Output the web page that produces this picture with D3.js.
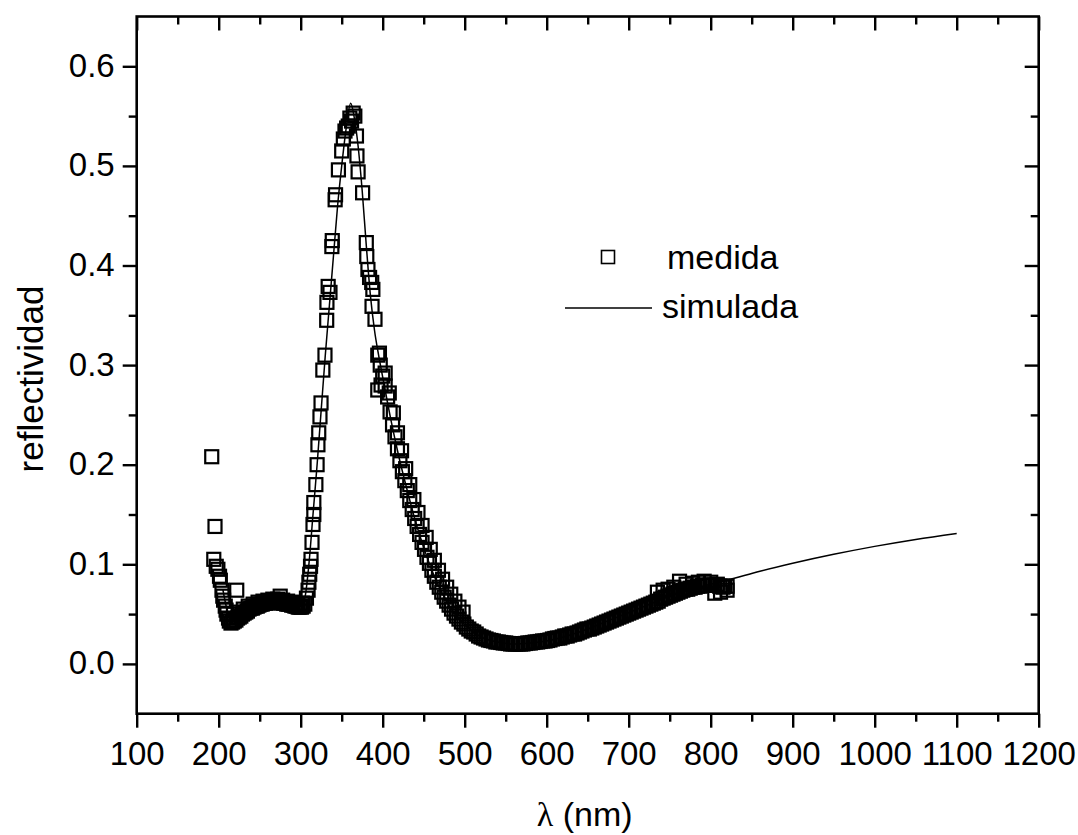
<!DOCTYPE html>
<html>
<head>
<meta charset="utf-8">
<script src="https://cdn.jsdelivr.net/npm/d3@7"></script>
<style>
  html, body { margin: 0; padding: 0; background: #fff; }
  svg { display: block; }
  text { font-family: "Liberation Sans", Arial, Helvetica, sans-serif; fill: #000; }
</style>
</head>
<body>
<svg id="chart" width="1078" height="835"></svg>
<script>
// ---------------- data ----------------
const xMajorTicks = [100, 200, 300, 400, 500, 600, 700, 800, 900, 1000, 1100, 1200];
const xMinorTicks = [150, 250, 350, 450, 550, 650, 750, 850, 950, 1050, 1150];
const yMajorTicks = [0.0, 0.1, 0.2, 0.3, 0.4, 0.5, 0.6];
const yMinorTicks = [0.05, 0.15, 0.25, 0.35, 0.45, 0.55];
const xLabel = "λ (nm)";
const yLabel = "reflectividad";
const legendLabels = ["medida", "simulada"];

// measured points, UV part (wavelength nm, reflectivity)
const medidaUV = [
  [191.5,.208],[195.5,.138],[194,.105],[197,.098],[199,.095],[201,.088],[202,.084],[204,.074],
  [205,.068],[206,.064],[208,.058],[209,.054],[210,.050],[212,.046],[213,.043],[215,.041],[222,.074],
  [217,.042],[219,.043],[221,.044],[223,.046],[225,.047],[227,.048],[229,.050],[231,.051],[233,.052],
  [235,.053],[237,.055],[239,.056],[241,.056],[243,.057],[245,.058],[247,.058],[249,.059],[251,.060],
  [253,.060],[255,.061],[257,.061],[259,.061],[261,.062],[263,.062],[265,.062],[267,.062],[269,.062],
  [271,.062],[273,.062],[275,.068],[275,.062],[277,.061],[279,.061],[281,.061],[283,.060],[285,.060],
  [287,.060],[289,.059],[291,.059],[293,.058],[295,.058],[297,.057],[299,.057],[301,.057],[303,.058],
  [218,.050],[224,.052],[230,.055],[236,.058],[242,.060],[248,.062],[254,.063],[260,.064],[266,.065],
  [272,.065],[278,.064],[284,.063],[290,.062],[296,.060],[302,.061],[305,.060],
  [307,.066],[309,.074],[310,.082],[311,.090],[312,.098],[312.6,.105],[313.8,.122],[315,.140],
  [316,.150],[316,.162],[318.5,.180],[320,.200],[321,.220],[322,.232],[323.5,.248],[324.8,.262],
  [327,.295],[329.6,.310],[331.7,.345],[332,.363],[333.5,.379],[335.7,.373],[338,.419],[338.5,.425],
  [342,.466],[342.5,.471],[346,.496],[350,.515],[352,.527],[354,.535],[356,.538],[358,.540],
  [360,.548],[362,.545],[364,.553],[366,.550],[368,.530],[368.6,.510],[370,.494],[375.5,.473],
  [380,.423],[380.6,.409],[382,.396],[384,.388],[386.6,.383],[388,.376],[387,.359],[390.6,.346],
  [394,.310],[394,.275],[396,.312],[397,.300],[398,.280]
];

// measured points, visible part: 400 nm to 820 nm every 3 nm
const medidaVisStart = 400;
const medidaVisStep = 3;
const medidaVis = [
  .289,.279,.268,.253,.240,.228,.216,.204,.193,.184,
  .174,.164,.155,.146,.138,.130,.122,.115,.107,.101,
  .094,.088,.082,.077,.072,.067,.063,.059,.055,.051,
  .048,.045,.042,.040,.037,.035,.033,.032,.030,.028,
  .027,.026,.025,.024,.0235,.023,.022,.022,.0215,.021,
  .021,.0205,.020,.020,.020,.020,.020,.020,.0205,.021,
  .021,.0215,.022,.022,.0225,.023,.023,.0235,.024,.025,
  .0255,.026,.026,.027,.028,.028,.029,.030,.030,.031,
  .032,.033,.034,.035,.035,.036,.037,.038,.039,.040,
  .041,.042,.043,.044,.045,.046,.047,.048,.049,.050,
  .051,.052,.053,.054,.055,.056,.057,.058,.059,.060,
  .061,.062,.063,.065,.066,.067,.068,.069,.070,.071,
  .072,.073,.074,.075,.075,.076,.077,.077,.078,.078,
  .079,.079,.079,.079,.079,.079,.079,.078,.078,.078,
  .078
];

// second, slightly offset group of measured points on the steep blue side
const medidaBlue = [
  [403,.292],[408,.272],[413,.252],[418,.232],[423,.214],[428,.196],[433,.180],[438,.165],
  [443,.152],[448,.139],[453,.127],[458,.115],[463,.104],[468,.094],[473,.085],[478,.077],
  [483,.070],[488,.063],[493,.057],[498,.052]
];

// extra scattered measured points in the near IR end
const medidaExtra = [
  [735,.072],[742,.074],[748,.075],[755,.077],[762,.083],[770,.080],[778,.081],[785,.082],
  [792,.083],[800,.082],[808,.080],[815,.077],[820,.074],[805,.071],[812,.072]
];

// simulated curve (wavelength nm, reflectivity)
const simulada = [
  [205,.075],[210,.055],[215,.045],[220,.044],[230,.049],[240,.054],[250,.058],[260,.061],
  [270,.062],[280,.062],[290,.060],[300,.058],[305,.066],[310,.100],[315,.150],[320,.200],
  [325,.255],[330,.310],[335,.360],[340,.410],[345,.460],[350,.500],[355,.535],[361,.563],
  [365,.550],[370,.520],[375,.475],[380,.420],[385,.370],[390,.335],[395,.310],[400,.288],
  [410,.245],[420,.207],[430,.174],[440,.143],[450,.117],[460,.094],[470,.075],[480,.060],
  [490,.048],[500,.039],[520,.027],[540,.022],[560,.020],[580,.021],[600,.023],[640,.032],
  [680,.045],[720,.058],[760,.071],[800,.080],[820,.084],[860,.093],[900,.101],[950,.110],
  [1000,.118],[1050,.125],[1100,.131]
];

// ---------------- chart ----------------
const svg = d3.select("#chart");
const L = 136.7, R = 1038.7, T = 16.5, B = 713.7;
const x = d3.scaleLinear().domain([100, 1200]).range([L, R]);
const y = d3.scaleLinear().domain([-0.05, 0.65]).range([B, T]);

const medida = medidaUV
  .concat(medidaVis.map((v, i) => [medidaVisStart + i * medidaVisStep, v]))
  .concat(medidaBlue)
  .concat(medidaExtra);

const fontSize = 33;
const axisColor = "#000";
const axisW = 2.6;

// frame
svg.append("rect")
  .attr("x", L).attr("y", T).attr("width", R - L).attr("height", B - T)
  .attr("fill", "none").attr("stroke", axisColor).attr("stroke-width", axisW);

function styleAxis(g) {
  g.select(".domain").remove();
  g.selectAll(".tick line").attr("stroke", axisColor).attr("stroke-width", 2.4);
}

// bottom axis
const gB = svg.append("g").attr("transform", `translate(0,${B})`);
gB.call(d3.axisBottom(x).tickValues(xMajorTicks).tickSize(14).tickPadding(12)
  .tickFormat(d3.format("d")));
styleAxis(gB);
gB.selectAll(".tick text").attr("font-size", fontSize).attr("font-family", "Liberation Sans, Arial, sans-serif")
  .attr("y", 51).attr("dy", 0);
svg.append("g").attr("transform", `translate(0,${B})`)
  .call(d3.axisBottom(x).tickValues(xMinorTicks).tickSize(8).tickFormat(""))
  .call(styleAxis);

// top axis (inward)
svg.append("g").attr("transform", `translate(0,${T})`)
  .call(d3.axisTop(x).tickValues(xMajorTicks).tickSize(-14).tickFormat(""))
  .call(styleAxis);
svg.append("g").attr("transform", `translate(0,${T})`)
  .call(d3.axisTop(x).tickValues(xMinorTicks).tickSize(-8).tickFormat(""))
  .call(styleAxis);

// left axis
const gL = svg.append("g").attr("transform", `translate(${L},0)`);
gL.call(d3.axisLeft(y).tickValues(yMajorTicks).tickSize(14).tickFormat(d3.format(".1f")));
styleAxis(gL);
gL.selectAll(".tick text").attr("font-size", fontSize).attr("font-family", "Liberation Sans, Arial, sans-serif")
  .attr("x", -22).attr("dy", "0.3em");
svg.append("g").attr("transform", `translate(${L},0)`)
  .call(d3.axisLeft(y).tickValues(yMinorTicks).tickSize(8).tickFormat(""))
  .call(styleAxis);

// right axis (inward)
svg.append("g").attr("transform", `translate(${R},0)`)
  .call(d3.axisRight(y).tickValues(yMajorTicks).tickSize(-14).tickFormat(""))
  .call(styleAxis);
svg.append("g").attr("transform", `translate(${R},0)`)
  .call(d3.axisRight(y).tickValues(yMinorTicks).tickSize(-8).tickFormat(""))
  .call(styleAxis);

// axis titles
const xt = svg.append("text")
  .attr("x", (L + R) / 2 - 3).attr("y", 826)
  .attr("text-anchor", "middle").attr("font-size", 34);
xt.append("tspan").attr("font-family", "Liberation Serif, Times New Roman, serif").text(xLabel.split(" ")[0]);
xt.append("tspan").text(" " + xLabel.split(" ").slice(1).join(" "));

svg.append("text")
  .attr("transform", `translate(43,379) rotate(-90)`)
  .attr("text-anchor", "middle").attr("font-size", 35)
  .text(yLabel);

// measured squares
const sq = 13;
svg.append("g").selectAll("rect")
  .data(medida).join("rect")
  .attr("x", d => x(d[0]) - sq / 2)
  .attr("y", d => y(d[1]) - sq / 2)
  .attr("width", sq).attr("height", sq)
  .attr("fill", "none").attr("stroke", "#000").attr("stroke-width", 2.2);

// simulated line
svg.append("path")
  .datum(simulada)
  .attr("fill", "none").attr("stroke", "#000").attr("stroke-width", 1.5)
  .attr("d", d3.line().x(d => x(d[0])).y(d => y(d[1])).curve(d3.curveMonotoneX));

// legend
const lg = svg.append("g");
lg.append("rect").attr("x", 608 - 6.5).attr("y", 257 - 6.5).attr("width", 13).attr("height", 13)
  .attr("fill", "none").attr("stroke", "#000").attr("stroke-width", 1.6);
lg.append("text").attr("x", 667).attr("y", 269).attr("font-size", 34).text(legendLabels[0]);
lg.append("line").attr("x1", 565).attr("x2", 652).attr("y1", 308).attr("y2", 308)
  .attr("stroke", "#000").attr("stroke-width", 1.6);
lg.append("text").attr("x", 662).attr("y", 318).attr("font-size", 34).text(legendLabels[1]);
</script>
</body>
</html>
